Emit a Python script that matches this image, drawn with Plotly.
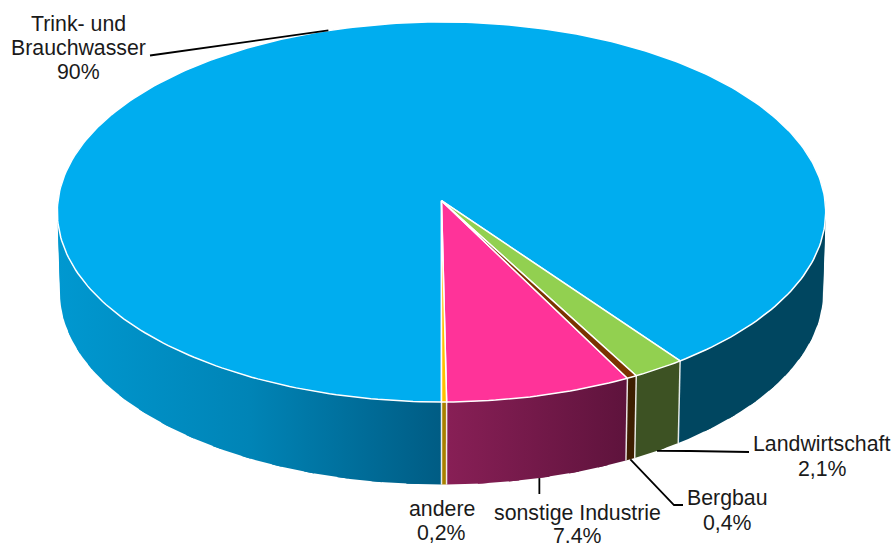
import numpy as np
import plotly.graph_objects as go

# Slice data, in drawing order from the front of the pie going counter-clockwise
names = ["andere", "sonstige Industrie", "Bergbau", "Landwirtschaft", "Trink- und Brauchwasser"]
values = [0.2, 7.4, 0.4, 2.1, 90.0]
value_labels = ["0,2%", "7.4%", "0,4%", "2,1%", "90%"]

top_colors = ["#FFC000", "#FF3399", "#7B3300", "#92D050", "#00ADEF"]
# Side wall shading: (screen x, colour) stops per slice
side_stops = [
    [(441, "rgb(168,128,0)"), (446, "rgb(168,128,0)")],
    [(446, "rgb(136,31,86)"), (628, "rgb(94,19,60)")],
    [(628, "rgb(61,30,0)"), (638, "rgb(61,30,0)")],
    [(638, "rgb(61,82,35)"), (681, "rgb(61,82,35)")],
    [(58, "rgb(0,152,208)"), (250, "rgb(0,132,182)"), (441, "rgb(0,92,132)"),
     (681, "rgb(0,70,96)"), (826, "rgb(0,70,96)")],
]

# (text, centre x, centre y) for every label row
label_rows = [
    [("andere", 441.7, 509), (value_labels[0], 441.7, 533)],
    [("sonstige Industrie", 577.5, 513), (value_labels[1], 577.5, 535.5)],
    [("Bergbau", 727.5, 498), (value_labels[2], 727.5, 523)],
    [("Landwirtschaft", 821.7, 444), (value_labels[3], 822, 469)],
    [("Trink- und", 78, 24), ("Brauchwasser", 78, 48), (value_labels[4], 78, 72)],
]
# Leader elbows between the rim anchor and the label
leader_tail = [
    None,
    [(None, 494)],
    [(674, 505), (683, 505)],
    [(690, 451), (749, 452)],
    [(157, 55), (150, 55.5)],
]

CX = 441.5
TOP_DISC = dict(apex_y=200.7, far_y=22.0, near_y=402.0, half_w=384.2)
BOTTOM_DISC = dict(apex_y=281.0, far_y=100.0, near_y=484.5, half_w=381.5)
WALL_CHUNK = np.radians(5)
WALL_OVERLAP = np.radians(1.5)


def project(theta, disc):
    """Perspective projection of the unit circle; theta runs from the near point."""
    up = disc["apex_y"] - disc["far_y"]
    down = disc["near_y"] - disc["apex_y"]
    k = (down - up) / (down + up)
    b = up * (1 + k)
    a = disc["half_w"] * np.sqrt(1 - k * k)
    u, v = np.sin(theta), -np.cos(theta)
    w = 1 + k * v
    return CX + a * u / w, disc["apex_y"] - b * v / w


total = sum(values)
edges = np.concatenate([[0.0], np.cumsum(values)]) / total * 2 * np.pi

fig = go.Figure()


def line(xs, ys, color, width):
    fig.add_trace(go.Scatter(x=xs, y=ys, mode="lines", line=dict(color=color, width=width),
                             hoverinfo="skip", showlegend=False))


# Side wall: overlapping chunks per slice, all sharing one horizontal gradient,
# so the silhouette stays straight where the two rims cross
for i in range(len(values)):
    stops = side_stops[i]
    x0, x1 = stops[0][0], stops[-1][0]
    scale = [[(x - x0) / (x1 - x0), c] for x, c in stops]
    n = max(1, int(np.ceil((edges[i + 1] - edges[i]) / WALL_CHUNK)))
    bounds = np.linspace(edges[i], edges[i + 1], n + 1)
    for a0, a1 in zip(bounds[:-1], bounds[1:]):
        if np.cos((a0 + a1) / 2) < -0.35:
            continue
        a_end = min(a1 + WALL_OVERLAP, edges[i + 1])
        ts = np.linspace(a0, a_end, 8)
        xt, yt = project(ts, TOP_DISC)
        xb, yb = project(ts[::-1], BOTTOM_DISC)
        fig.add_trace(go.Scatter(
            x=np.r_[xt, xb, xt[0]], y=np.r_[yt, yb, yt[0]], mode="lines", fill="toself",
            fillgradient=dict(type="horizontal", colorscale=scale, start=x0, stop=x1),
            line=dict(color="rgba(0,0,0,0)", width=0), hoverinfo="skip", showlegend=False))

# Pale seams between the wall sections
for t in edges[:-1]:
    xt, yt = project(np.array([t]), TOP_DISC)
    xb, yb = project(np.array([t]), BOTTOM_DISC)
    line([xt[0], xb[0]], [yt[0], yb[0]], "rgba(255,255,255,0.85)", 1.5)

# Top face wedges
ax, ay = CX, TOP_DISC["apex_y"]
for i in [4, 1, 3, 2, 0]:
    ts = np.linspace(edges[i], edges[i + 1], max(3, int((edges[i + 1] - edges[i]) / np.radians(1)) + 2))
    xt, yt = project(ts, TOP_DISC)
    fig.add_trace(go.Scatter(x=np.r_[ax, xt, ax], y=np.r_[ay, yt, ay], mode="lines", fill="toself",
                             fillcolor=top_colors[i], line=dict(color="white", width=1.5),
                             hoverinfo="skip", showlegend=False))

# Leader lines start on the rim at each slice's mid angle
for i, tail in enumerate(leader_tail):
    if tail is None:
        continue
    mid = np.array([(edges[i] + edges[i + 1]) / 2])
    x0, y0 = project(mid, TOP_DISC if i == 4 else BOTTOM_DISC)
    xs, ys = [x0[0]], [y0[0]]
    for px, py in tail:
        xs.append(x0[0] if px is None else px)
        ys.append(py)
    line(xs, ys, "#000000", 1.8)

for rows in label_rows:
    for text, x, y in rows:
        fig.add_annotation(x=x, y=y, text=text, showarrow=False, xanchor="center", yanchor="middle",
                           font=dict(family="Liberation Sans", size=21.3, color="#1a1a1a"))

fig.update_layout(
    width=893, height=544, margin=dict(l=0, r=0, t=0, b=0),
    paper_bgcolor="white", plot_bgcolor="white", showlegend=False,
    xaxis=dict(range=[0, 893], visible=False, fixedrange=True),
    yaxis=dict(range=[544, 0], visible=False, fixedrange=True),
)
fig.write_html("out.html", config=dict(displayModeBar=False))
